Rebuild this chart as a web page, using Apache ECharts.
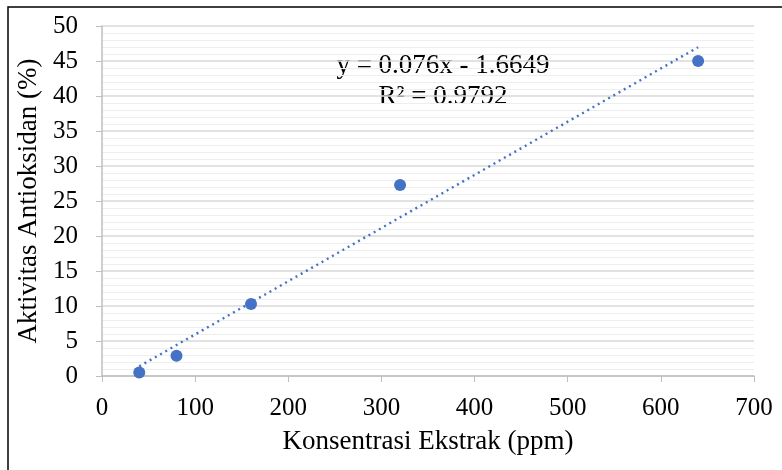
<!DOCTYPE html>
<html>
<head>
<meta charset="utf-8">
<script src="https://cdn.jsdelivr.net/npm/echarts@6/dist/echarts.min.js"></script>
<style>
    html, body { margin: 0; padding: 0; background: #fff; }
    #chart { width: 782px; height: 470px; }
</style>
</head>
<body>
<div id="chart"></div>
<script>
    // data
    var konsentrasi = [40, 80, 160, 320, 640];
    var aktivitas = [0.5, 2.9, 10.3, 27.3, 45.0];
    // trendline ends, as drawn by the spreadsheet
    var trendX = [40, 640];
    var trendY = [1.38, 46.97];
    var trendText = ['y = 0.076x - 1.6649', 'R² = 0.9792'];

    var points = konsentrasi.map(function (x, i) { return [x, aktivitas[i]]; });
    var trend = trendX.map(function (x, i) { return [x, trendY[i]]; });

    var serif = '"Liberation Serif", "Times New Roman", serif';
    var chart = echarts.init(document.getElementById('chart'));
    chart.setOption({
        animation: false,
        grid: { left: 102, right: 28, top: 26, bottom: 94 },
        graphic: [
            {
                type: 'rect',
                shape: { x: 8, y: 7, width: 800, height: 500 },
                style: { fill: 'none', stroke: '#000', lineWidth: 1.5 },
                silent: true
            },
            {
                type: 'text',
                x: 443, y: 66,
                style: {
                    text: trendText[0], fontFamily: serif, fontSize: 27, fill: '#000',
                    align: 'center', verticalAlign: 'middle'
                }
            },
            {
                type: 'text',
                x: 443, y: 97,
                style: {
                    text: trendText[1], fontFamily: serif, fontSize: 27, fill: '#000',
                    align: 'center', verticalAlign: 'middle'
                }
            }
        ],
        xAxis: {
            type: 'value',
            min: 0, max: 700, interval: 100,
            name: 'Konsentrasi Ekstrak (ppm)',
            nameLocation: 'middle',
            nameGap: 52,
            nameTextStyle: { fontFamily: serif, fontSize: 27, color: '#000' },
            axisLine: { show: true, lineStyle: { color: '#bfbfbf', width: 1.5 } },
            axisTick: { show: true, length: 6, lineStyle: { color: '#bfbfbf' } },
            axisLabel: { margin: 20, fontFamily: serif, fontSize: 25, color: '#000' },
            splitLine: { show: false }
        },
        yAxis: {
            type: 'value',
            min: 0, max: 50, interval: 5,
            name: 'Aktivitas Antioksidan (%)',
            nameLocation: 'middle',
            nameGap: 56,
            nameTextStyle: { fontFamily: serif, fontSize: 27, color: '#000' },
            axisLine: { show: true, lineStyle: { color: '#bfbfbf', width: 1.5 } },
            axisTick: { show: true, length: 6, lineStyle: { color: '#bfbfbf' } },
            axisLabel: { margin: 24, fontFamily: serif, fontSize: 25, color: '#000' },
            splitLine: { show: true, lineStyle: { color: '#d9d9d9', width: 1.5 } },
            minorTick: { show: false, splitNumber: 5 },
            minorSplitLine: { show: true, lineStyle: { color: '#eeeeee', width: 1 } }
        },
        series: [
            {
                type: 'line',
                data: trend,
                symbol: 'none',
                lineStyle: { color: '#4472c4', width: 2.4, type: [2, 4] },
                z: 2
            },
            {
                type: 'scatter',
                data: points,
                symbolSize: 12,
                itemStyle: { color: '#4472c4', opacity: 1 },
                z: 3
            }
        ]
    });
</script>
</body>
</html>
